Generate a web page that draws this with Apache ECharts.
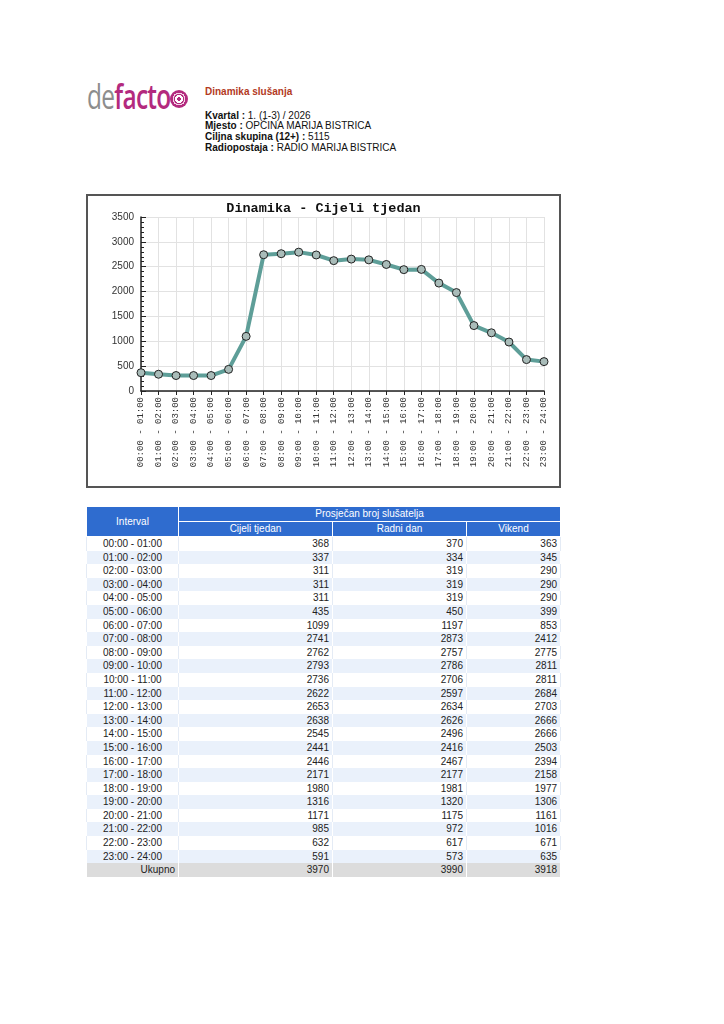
<!DOCTYPE html>
<html><head><meta charset="utf-8">
<script src="https://cdn.jsdelivr.net/npm/echarts@6/dist/echarts.min.js"></script>
<style>
html,body{margin:0;padding:0;background:#fff;width:724px;height:1024px;overflow:hidden;font-family:"Liberation Sans",Arial,sans-serif;}
#logo{position:absolute;left:87px;top:76px;font-family:"Open Sans","Liberation Sans",sans-serif;font-weight:600;font-size:34px;letter-spacing:-1px;line-height:40px;transform:scaleX(0.72);transform-origin:0 0;white-space:nowrap;}
#logo .de{color:#8d8d8d;font-weight:400;}
#logo .fa{color:#b32a7e;}
#flower{position:absolute;left:170px;top:90px;width:18px;height:18px;border-radius:50%;background:radial-gradient(circle,#b32a7e 0 14%,#fff 15% 30%,#b32a7e 31% 40%,#f3d3e6 41% 50%,#b32a7e 51%);}
#head{position:absolute;left:205px;top:87px;font-size:10px;color:#111;line-height:10.7px;}
#head .t{color:#b33a1e;font-weight:bold;margin-bottom:13px;}
#chartbox{position:absolute;left:86px;top:194px;width:471px;height:290px;border:2px solid #555;}
#chart{width:471px;height:290px;}
#tbl{position:absolute;left:86px;top:507px;width:474px;border-collapse:collapse;font-size:10px;table-layout:fixed;}
#tbl td,#tbl th{padding:0 3px;border-left:1px solid #fff;border-right:1px solid #fff;white-space:nowrap;overflow:hidden;}
#tbl th{background:#2f6ccf;color:#fff;font-weight:normal;height:14px;line-height:14px;border-bottom:1px solid #fff;}
#tbl td{height:13.6px;line-height:13.6px;color:#222;padding-top:0;padding-bottom:0;}
#tbl tr.even td{border-left-color:#e4ebf5;border-right-color:#e4ebf5;}
#tbl tr.odd td{background:#eaf1fb;}
#tbl tr.tot td{background:#dcdcdc;}
#tbl td.c{text-align:center;}
#tbl td.r{text-align:right;}
</style></head>
<body>
<div id="logo"><span class="de">de</span><span class="fa">facto</span></div>
<div id="flower"></div>
<div id="head"></div>
<div id="chartbox"><div id="chart"></div></div>
<table id="tbl"></table>
<script>
var intervals = ["00:00 - 01:00","01:00 - 02:00","02:00 - 03:00","03:00 - 04:00","04:00 - 05:00","05:00 - 06:00","06:00 - 07:00","07:00 - 08:00","08:00 - 09:00","09:00 - 10:00","10:00 - 11:00","11:00 - 12:00","12:00 - 13:00","13:00 - 14:00","14:00 - 15:00","15:00 - 16:00","16:00 - 17:00","17:00 - 18:00","18:00 - 19:00","19:00 - 20:00","20:00 - 21:00","21:00 - 22:00","22:00 - 23:00","23:00 - 24:00"];
var cijeliTjedan = [368,337,311,311,311,435,1099,2741,2762,2793,2736,2622,2653,2638,2545,2441,2446,2171,1980,1316,1171,985,632,591];
var radniDan = [370,334,319,319,319,450,1197,2873,2757,2786,2706,2597,2634,2626,2496,2416,2467,2177,1981,1320,1175,972,617,573];
var vikend = [363,345,290,290,290,399,853,2412,2775,2811,2811,2684,2703,2666,2666,2503,2394,2158,1977,1306,1161,1016,671,635];
var ukupno = {label:"Ukupno", cijeli:3970, radni:3990, vikend:3918};
var headerInfo = [["Kvartal","1. (1-3) / 2026"],["Mjesto","OPĆINA MARIJA BISTRICA"],["Ciljna skupina (12+)","5115"],["Radiopostaja","RADIO MARIJA BISTRICA"]];
var pageTitle = "Dinamika slušanja";
var chartTitle = "Dinamika - Cijeli tjedan";
var colHeaders = ["Interval","Prosječan broj slušatelja","Cijeli tjedan","Radni dan","Vikend"];

var h = '<div class="t">'+pageTitle+'</div>';
headerInfo.forEach(function(p){ h += '<div><b>'+p[0]+' :</b> '+p[1]+'</div>'; });
document.getElementById('head').innerHTML = h;

var t = '<colgroup><col style="width:92px"><col style="width:154px"><col style="width:134px"><col style="width:94px"></colgroup>';
t += '<tr><th rowspan="2">'+colHeaders[0]+'</th><th colspan="3">'+colHeaders[1]+'</th></tr>';
t += '<tr><th>'+colHeaders[2]+'</th><th>'+colHeaders[3]+'</th><th>'+colHeaders[4]+'</th></tr>';
intervals.forEach(function(iv,i){
  t += '<tr class="'+(i%2?'odd':'even')+'"><td class="c">'+iv+'</td><td class="r">'+cijeliTjedan[i]+'</td><td class="r">'+radniDan[i]+'</td><td class="r">'+vikend[i]+'</td></tr>';
});
t += '<tr class="tot"><td class="r">'+ukupno.label+'</td><td class="r">'+ukupno.cijeli+'</td><td class="r">'+ukupno.radni+'</td><td class="r">'+ukupno.vikend+'</td></tr>';
document.getElementById('tbl').innerHTML = t;

var chart = echarts.init(document.getElementById('chart'), null, {renderer:'canvas'});
chart.setOption({
  animation:false,
  backgroundColor:'#fff',
  title:{text:chartTitle,left:'center',top:1,textStyle:{fontFamily:'Liberation Mono',fontWeight:'bold',fontSize:13.5,color:'#111'}},
  grid:{left:53,right:15,top:21,height:174},
  xAxis:{type:'category',data:intervals,boundaryGap:false,
    axisLine:{lineStyle:{color:'#222',width:1.5}},
    axisTick:{show:true,length:4,alignWithLabel:true,lineStyle:{color:'#222'}},
    axisLabel:{rotate:90,interval:0,fontFamily:'Liberation Mono',fontSize:9,color:'#333',margin:6},
    splitLine:{show:true,lineStyle:{color:'#e2e2e2',width:1}}},
  yAxis:{type:'value',min:0,max:3500,interval:500,
    axisLine:{show:true,lineStyle:{color:'#222',width:1.5}},
    axisTick:{show:true,inside:true,length:5,lineStyle:{color:'#222'}},
    minorTick:{show:true,splitNumber:5,length:3,lineStyle:{color:'#222'}},
    axisLabel:{fontFamily:'Liberation Sans',fontSize:10,color:'#333',margin:7,formatter:function(v){return String(v);}},
    splitLine:{show:true,lineStyle:{color:'#e2e2e2',width:1}}},
  series:[{type:'line',data:cijeliTjedan,
    lineStyle:{color:'#5e9e98',width:4},
    symbol:'circle',symbolSize:8,
    itemStyle:{color:'#a9bcb9',borderColor:'#222',borderWidth:1}}]
});
</script>
</body></html>
